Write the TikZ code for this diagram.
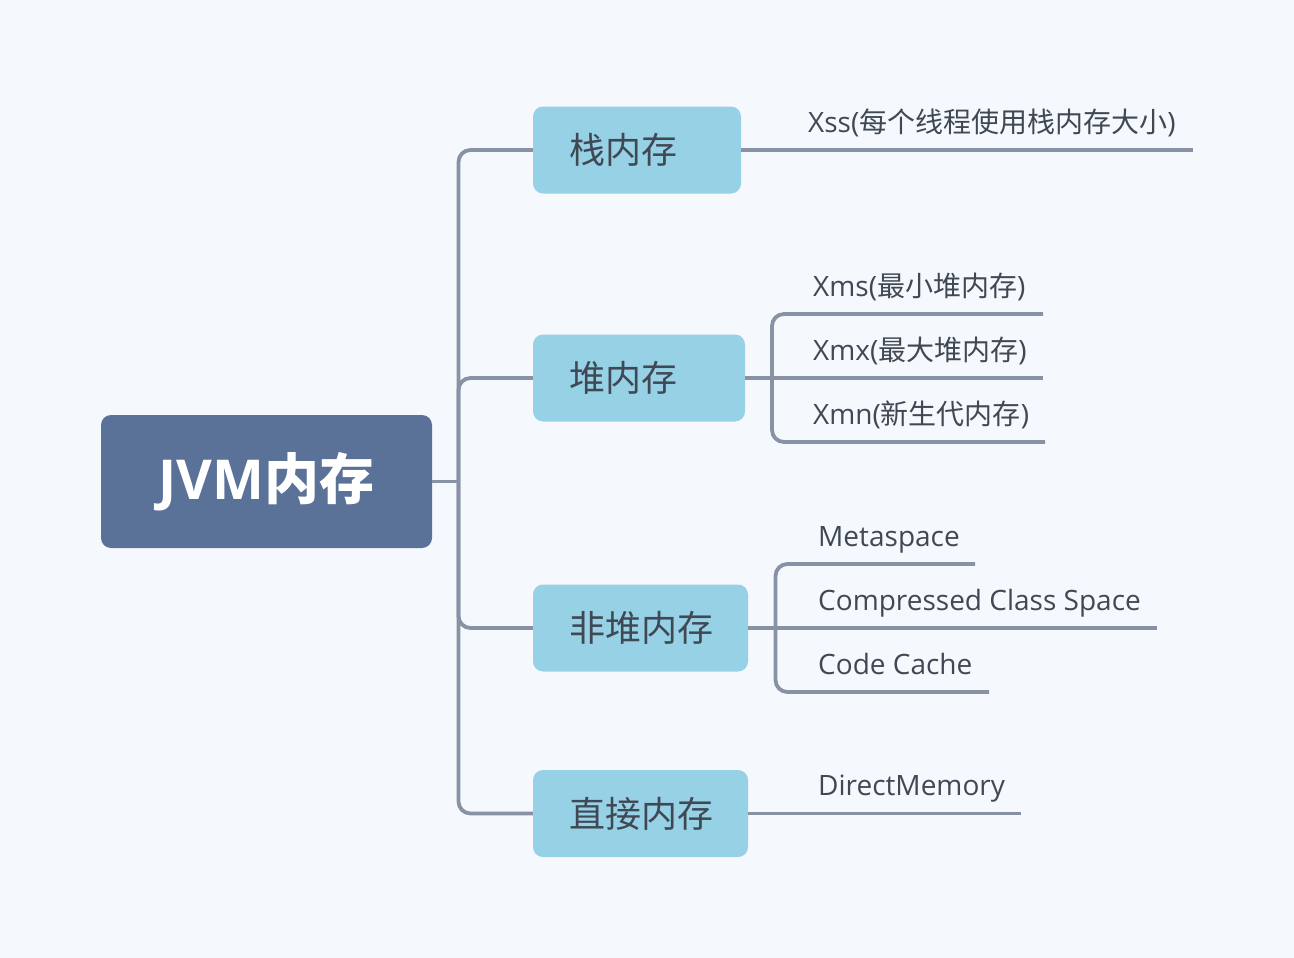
\documentclass[tikz,border=0pt]{standalone}
\usepackage{fontspec}
\setmainfont{Open Sans}
\newfontfamily\cjk{Noto Sans CJK SC}
\definecolor{bgc}{RGB}{245,249,253}
\definecolor{linec}{RGB}{136,146,165}
\definecolor{boxc}{RGB}{150,209,230}
\definecolor{rootc}{RGB}{90,113,152}
\definecolor{textc}{RGB}{64,72,84}
\begin{document}
\begin{tikzpicture}[x=1pt,y=-1pt,
  conn/.style={draw=linec, line width=3.8pt, rounded corners=12pt},
  rootbox/.style={fill=rootc, rounded corners=10pt, text=white, inner sep=0pt,
    minimum width=331pt, minimum height=133pt, font=\bfseries\fontsize{55}{60}\selectfont},
  topic/.style={fill=boxc, rounded corners=10pt, text=textc, inner xsep=36pt, inner ysep=0pt,
    minimum height=87pt, align=left, font=\cjk\fontsize{36}{40}\selectfont},
  lab/.style={anchor=base west, text=textc, inner sep=0pt, font=\fontsize{28}{32}\selectfont}]
\fill[bgc] (0,0) rectangle (1294,958);
\useasboundingbox (0,0) rectangle (1294,958);

% root
\node[rootbox] (root) at (266.5,481.5) {JVM{\cjk\bfseries 内存}};

% topics
\node[topic, text width=136pt] (b1) at (637,150) {栈内存};
\node[topic, text width=140pt] (b2) at (639,378) {堆内存};
\node[topic, text width=143pt] (b3) at (640.5,628) {非堆内存};
\node[topic, text width=143pt] (b4) at (640.5,813.5) {直接内存};

% trunk
\coordinate (t) at (458.5,481.5);
\draw[conn] (root.east) -- (t);
\draw[conn] (t) |- (b1.west);
\draw[conn] (t) |- (b2.west);
\draw[conn] (t) |- (b3.west);
\draw[conn] (t) |- (b4.west);

% stack
\coordinate (e1) at (1193,150);
\draw[conn] (b1.east) -- (e1);
\node[lab] (l1) at (808,132) {Xss({\cjk 每个线程使用栈内存大小})};

% heap
\coordinate (s2) at (772,378);
\coordinate (e21) at (1043,314);
\coordinate (e22) at (1043,378);
\coordinate (e23) at (1045,442);
\draw[conn] (b2.east) -- (e22);
\draw[conn] (s2) |- (e21);
\draw[conn] (s2) |- (e23);
\node[lab] (l21) at (813,296) {Xms({\cjk 最小堆内存})};
\node[lab] (l22) at (813,360) {Xmx({\cjk 最大堆内存})};
\node[lab] (l23) at (813,424) {Xmn({\cjk 新生代内存})};

% non-heap
\coordinate (s3) at (775.5,628);
\coordinate (e31) at (975,564);
\coordinate (e32) at (1157,628);
\coordinate (e33) at (989,692);
\draw[conn] (b3.east) -- (e32);
\draw[conn] (s3) |- (e31);
\draw[conn] (s3) |- (e33);
\node[lab] (l31) at (818,546) {Metaspace};
\node[lab] (l32) at (818,610) {Compressed Class Space};
\node[lab] (l33) at (818,674) {Code Cache};

% direct
\coordinate (e4) at (1021,813.5);
\draw[conn] (b4.east) -- (e4);
\node[lab] (l4) at (818,795.5) {DirectMemory};
\end{tikzpicture}
\end{document}
